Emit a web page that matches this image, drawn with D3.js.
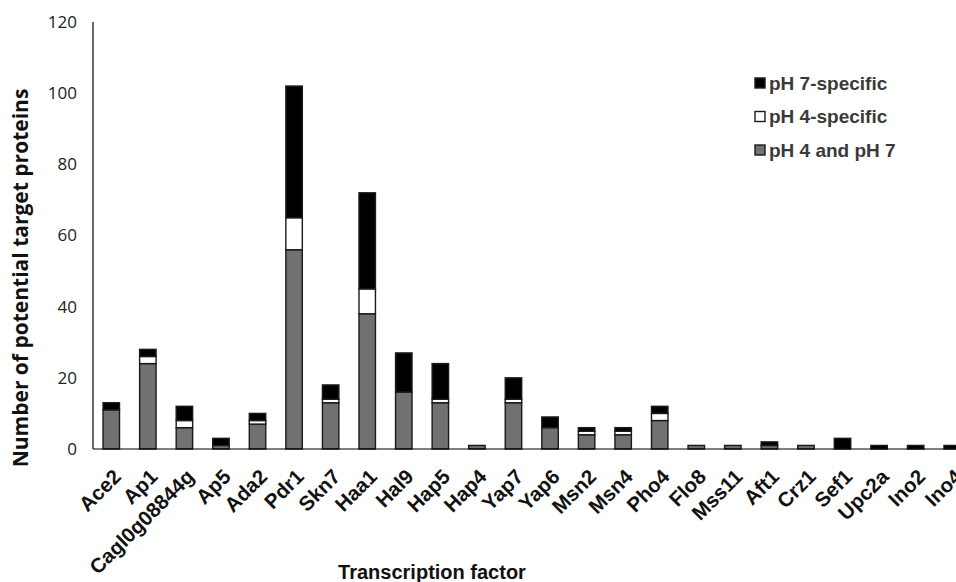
<!DOCTYPE html>
<html>
<head>
<meta charset="utf-8">
<script src="https://cdn.jsdelivr.net/npm/d3@7"></script>
<style>
  body { margin: 0; background: #fff; }
  svg { display: block; }
</style>
</head>
<body>
<svg width="956" height="582"></svg>
<script>
// Data
const factors = ["Ace2", "Ap1", "Cagl0g08844g", "Ap5", "Ada2", "Pdr1", "Skn7", "Haa1", "Hal9", "Hap5",
    "Hap4", "Yap7", "Yap6", "Msn2", "Msn4", "Pho4", "Flo8", "Mss11", "Aft1", "Crz1", "Sef1", "Upc2a", "Ino2", "Ino4"];
const both = [11, 24, 6, 1, 7, 56, 13, 38, 16, 13, 1, 13, 6, 4, 4, 8, 1, 1, 1, 1, 0, 0, 0, 0];
const ph4Only = [0, 2, 2, 0, 1, 9, 1, 7, 0, 1, 0, 1, 0, 1, 1, 2, 0, 0, 0, 0, 0, 0, 0, 0];
const ph7Only = [2, 2, 4, 2, 2, 37, 4, 27, 11, 10, 0, 6, 3, 1, 1, 2, 0, 0, 1, 0, 3, 1, 1, 1];
const yTicks = [0, 20, 40, 60, 80, 100, 120];
const seriesNames = ["pH 4 and pH 7", "pH 4-specific", "pH 7-specific"];

buildGraph();

function buildGraph()
{
    const colors = {
        "pH 4 and pH 7": "#717171",
        "pH 4-specific": "#ffffff",
        "pH 7-specific": "#000000"
    };
    const labelSize = 20.5;

    //Table for stack
    let rows = factors.map(function (f, i) {
        return {name: f, "pH 4 and pH 7": both[i], "pH 4-specific": ph4Only[i], "pH 7-specific": ph7Only[i]};
    });
    let stacked = d3.stack().keys(seriesNames)(rows);

    let svg = d3.select("svg");

    //Scales
    let xscale = d3.scaleBand().domain(factors).range([93, 970.5])
        .paddingInner(0.55).paddingOuter(0.275);
    let yscale = d3.scaleLinear().domain([0, 120]).range([449, 22]);

    //Y axis labels
    svg.append("g").selectAll("text")
        .data(yTicks)
        .enter().append("text")
        .attr("x", 77)
        .attr("y", d => yscale(d))
        .attr("dy", "0.35em")
        .attr("text-anchor", "end")
        .attr("font-family", "Open Sans")
        .attr("font-size", 17)
        .attr("fill", "#222")
        .text(d => d);

    //Bars
    svg.append("g")
        .selectAll("g")
        .data(stacked)
        .enter().append("g")
        .attr("fill", d => colors[d.key])
        .selectAll("rect")
        .data(d => d.filter(p => p[1] - p[0] > 0))
        .enter().append("rect")
        .attr("x", d => xscale(d.data.name))
        .attr("y", d => yscale(d[1]))
        .attr("width", xscale.bandwidth())
        .attr("height", d => yscale(d[0]) - yscale(d[1]))
        .attr("stroke", "#1a1a1a")
        .attr("stroke-width", 1.4);

    //Axis lines
    svg.append("line").attr("x1", 93).attr("x2", 93).attr("y1", 22).attr("y2", 449)
        .attr("stroke", "#000").attr("stroke-width", 1.2);
    svg.append("line").attr("x1", 93).attr("x2", 956).attr("y1", 449).attr("y2", 449)
        .attr("stroke", "#000").attr("stroke-width", 1.2);

    //X labels: each glyph placed along a 45 degree baseline, ending under the bar
    let meas = svg.append("text")
        .attr("font-family", "Liberation Sans")
        .attr("font-weight", "bold")
        .attr("font-size", labelSize)
        .attr("visibility", "hidden");
    const c45 = Math.SQRT1_2;
    svg.append("g").selectAll("text")
        .data(factors)
        .enter().append("text")
        .attr("font-family", "Liberation Sans")
        .attr("font-weight", "bold")
        .attr("font-size", labelSize)
        .attr("fill", "#111")
        .attr("rotate", "-45")
        .each(function (d) {
            meas.text(d);
            let node = meas.node();
            let len = node.getComputedTextLength();
            let offs = [];
            for (let i = 0; i < d.length; i++) offs.push(node.getStartPositionOfChar(i).x);
            let bx = xscale(d) + xscale.bandwidth() / 2 + 11;
            let by = 478;
            d3.select(this)
                .attr("x", offs.map(o => (bx + (o - len) * c45).toFixed(2)).join(" "))
                .attr("y", offs.map(o => (by - (o - len) * c45).toFixed(2)).join(" "))
                .text(d);
        });
    meas.remove();

    //Axis titles
    svg.append("text")
        .attr("text-anchor", "middle")
        .attr("x", 432)
        .attr("y", 579)
        .attr("font-family", "Liberation Sans")
        .attr("font-weight", "bold")
        .attr("font-size", 20)
        .attr("fill", "#111")
        .text("Transcription factor");

    svg.append("text")
        .attr("text-anchor", "middle")
        .attr("transform", "translate(28, 278) rotate(-90)")
        .attr("font-family", "Open Sans")
        .attr("font-weight", "bold")
        .attr("font-size", 21)
        .attr("fill", "#111")
        .text("Number of potential target proteins");

    //Legend
    let legend = svg.append("g").selectAll("g")
        .data(seriesNames.slice().reverse())
        .enter().append("g")
        .attr("transform", (d, i) => "translate(755," + (78 + i * 33.5) + ")");
    legend.append("rect")
        .attr("width", 10).attr("height", 10)
        .attr("fill", d => colors[d])
        .attr("stroke", "#1a1a1a").attr("stroke-width", 1.4);
    legend.append("text")
        .attr("x", 14).attr("y", 5).attr("dy", "0.36em")
        .attr("font-family", "Liberation Sans")
        .attr("font-weight", "bold")
        .attr("font-size", 19)
        .attr("fill", "#3a3a3a")
        .text(d => d);
}
</script>
</body>
</html>
